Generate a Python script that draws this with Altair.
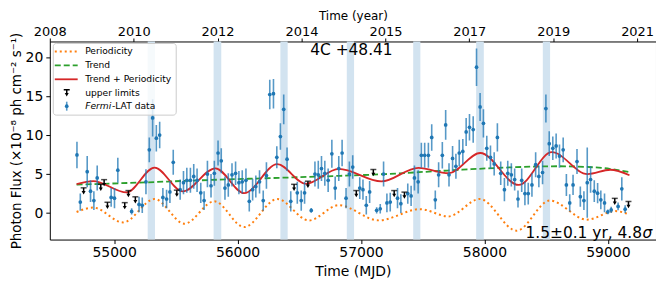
import altair as alt
import pandas as pd

# ---------------- data ----------------
mjd = [54699, 54726, 54782, 54809, 54836, 54863, 54976, 55003, 55030, 55142,
       55202, 55228, 55258, 55285, 55312, 55342, 55369, 55395, 55425, 55452,
       55479, 55535, 55562, 55589, 55618, 55645, 55672, 55702, 55729, 55756,
       55785, 55812, 55842, 55868, 55898, 55925, 55955, 55984, 56011, 56038,
       56068, 56095, 56122, 56148, 56178, 56208, 56234, 56261, 56291, 56318,
       56347, 56374, 56401, 56431, 56484, 56516, 56543, 56597, 56627, 56654,
       56680, 56707, 56734, 56764, 56791, 56820, 56847, 56879, 56906, 56933,
       56990, 57016, 57043, 57070, 57127, 57156, 57183, 57210, 57237, 57296,
       57323, 57379, 57406, 57433, 57463, 57489, 57516, 57546, 57573, 57602,
       57629, 57659, 57686, 57713, 57742, 57769, 57796, 57825, 57852, 57879,
       57909, 57936, 57965, 57992, 58019, 58049, 58079, 58105, 58132, 58162,
       58189, 58218, 58245, 58272, 58302, 58328, 58355, 58385, 58415, 58441,
       58471, 58498, 58525, 58554, 58581, 58608, 58638, 58664, 58691, 58718,
       58750, 58777, 58806, 58833, 58860, 58890, 58917, 58943, 58973, 59000,
       59027, 59083, 59113, 59140]
flux = [7.45, 1.4, 5.3, 2.8, 1.6, 4.5, 2.0, 1.9, 5.5, 0.2,
        1.1, 1.0, 4.0, 8.1, 12.2, 9.6, 10.0, 2.0, 1.8, 2.7,
        6.5, 3.0, 3.9, 4.2, 4.2, 4.7, 4.2, 2.6, 1.6, 5.0,
        3.5, 5.1, 7.7, 6.7, 3.2, 3.6, 4.9, 5.1, 3.9, 4.0,
        4.2, 1.5, 3.0, 3.4, 4.0, 1.6, 4.8, 15.2, 15.3, 7.15,
        9.8, 13.3, 6.9, 1.5, 2.6, 1.6, 2.6, 0.34, 5.0, 4.9,
        5.7, 5.1, 4.2, 7.6, 3.2, 5.7, 7.7, 1.9, 5.0, 5.9,
        3.2, 3.0, 1.0, 2.7, 0.35, 0.55, 5.0, 1.3, 1.4, 1.9,
        1.2, 2.5, 2.2, 4.5, 4.0, 7.4, 7.4, 7.4, 9.7, 1.7,
        4.9, 7.4, 11.3, 4.9, 7.0, 6.0, 7.7, 7.9, 10.4, 11.0,
        10.7, 18.7, 13.6, 11.5, 8.3, 7.15, 6.3, 9.7, 5.1, 3.0,
        5.1, 4.9, 4.3, 1.8, 4.2, 2.5, 2.5, 3.6, 6.2, 4.7,
        5.2, 13.4, 8.9, 8.3, 8.6, 7.3, 8.1, 3.6, 1.3, 3.6,
        6.6, 2.1, 1.6, 3.9, 4.3, 2.8, 2.55, 1.7, 1.3, 0.15,
        0.4, 0.85, 3.1, 0.5]
flux_err = [1.7, 1.1, 2.0, 1.4, 1.2, 1.6, 1.2, 1.3, 1.6, 0.4,
            1.0, 1.0, 1.6, 1.6, 2.4, 1.7, 1.7, 1.2, 1.2, 1.4,
            1.6, 1.3, 1.5, 1.6, 1.6, 1.6, 1.5, 1.3, 1.2, 1.7,
            1.5, 1.6, 1.6, 1.6, 1.5, 1.5, 1.5, 1.5, 1.5, 1.5,
            1.5, 1.3, 1.4, 1.4, 1.5, 1.3, 1.7, 1.9, 1.9, 1.4,
            1.7, 1.9, 1.5, 1.3, 1.4, 1.3, 1.4, 0.3, 1.6, 1.8,
            1.6, 1.6, 1.5, 1.8, 1.5, 1.6, 1.7, 1.3, 1.6, 1.5,
            1.4, 1.3, 1.2, 1.4, 0.4, 0.6, 1.6, 1.2, 1.2, 1.3,
            1.2, 1.3, 1.3, 1.6, 1.5, 1.6, 1.6, 1.6, 1.7, 1.2,
            1.6, 1.7, 1.9, 1.5, 1.6, 1.6, 1.7, 1.6, 1.8, 1.7,
            1.7, 2.4, 1.8, 1.8, 1.6, 1.5, 1.5, 1.8, 1.5, 1.5,
            1.6, 1.5, 1.4, 1.1, 1.5, 1.5, 1.4, 1.5, 1.6, 1.4,
            1.5, 1.8, 1.6, 1.5, 1.6, 1.5, 1.6, 1.4, 1.1, 1.3,
            1.6, 1.3, 1.2, 4.5, 1.7, 1.4, 1.3, 1.2, 1.2, 0.3,
            0.4, 0.5, 1.5, 0.5]

ul_mjd = [54753, 54892, 54919, 54946, 55086, 55116, 55172, 55508,
          56458, 56570, 56962, 57100, 57269, 57352, 59056, 59167]
ul_flux = [2.85, 3.3, 3.9, 1.0, 0.95, 2.5, 1.7, 2.55,
           3.3, 3.7, 2.5, 5.2, 2.5, 2.3, 1.5, 1.1]

band_start = [55272, 55806, 56347, 56885, 57423, 57933, 58473]
band_end = [55331, 55868, 56406, 56944, 57481, 57995, 58532]

per_mjd = [54696, 54831, 55073, 55328, 55570, 55812, 56054, 56322, 56578,
           56820, 57143, 57479, 57707, 57963, 58261, 58530, 58830, 59060, 59175]
per_val = [0.13, 0.7, -1.2, 1.8, -1.36, 1.5, -1.8, 1.8, -0.95,
           1.0, -0.94, 0.5, -0.43, 1.8, -2.26, 1.6, -0.85, 0.25, -0.2]

trend_mjd = [54696, 55200, 55700, 56200, 56700, 57200, 57700, 58200, 58600, 58900, 59175]
trend_val = [3.65, 3.9, 4.2, 4.45, 4.7, 5.0, 5.45, 5.85, 6.0, 5.85, 5.25]

tp_mjd = [54696, 54831, 55100, 55328, 55556, 55820, 56054, 56322, 56555,
          56820, 57165, 57465, 57710, 57966, 58278, 58546, 58835, 59020, 59175]
tp_val = [3.7, 4.1, 2.64, 5.83, 2.77, 5.74, 2.55, 6.26, 3.75,
          5.66, 4.05, 5.8, 5.1, 7.7, 3.6, 7.8, 5.0, 5.55, 4.85]

bottom_ticks = [55000, 56000, 57000, 58000, 59000]
left_ticks = [0, 5, 10, 15, 20]
top_tick_mjd = [54479, 55159, 55838, 56518, 57198, 57877, 58557, 59237]
top_tick_labels = ["2008", "2010", "2012", "2014", "2015", "2017", "2019", "2021"]

# ---------------- chart ----------------
W, H = 609, 199
FONT = "DejaVu Sans"
BLUE, ORANGE, GREEN, RED = "#1f77b4", "#ff7f0e", "#2ca02c", "#d62728"

xs = alt.Scale(domain=[54479, 59390], nice=False, zero=False)
ys = alt.Scale(domain=[-3.4, 22.0], nice=False, zero=False)

y_axis = alt.Axis(values=left_ticks, format="d",
                  title="Photon Flux  (×10⁻⁸ ph cm⁻² s⁻¹)",
                  titleFontSize=13.5, titlePadding=1.5, labelPadding=3)

df = pd.DataFrame({"mjd": mjd, "flux": flux, "err": flux_err})
ul = pd.DataFrame({"mjd": ul_mjd, "flux": ul_flux})
bands = pd.DataFrame({"start": band_start, "end": band_end})
per = pd.DataFrame({"mjd": per_mjd, "v": per_val})
trend = pd.DataFrame({"mjd": trend_mjd, "v": trend_val})
tp = pd.DataFrame({"mjd": tp_mjd, "v": tp_val})

top_label_expr = ("[" + ",".join("'%s'" % s for s in top_tick_labels) + "][indexof(["
                  + ",".join(str(v) for v in top_tick_mjd) + "], datum.value)]")

band_layer = alt.Chart(bands).mark_rect(color="#d2e3f0").encode(
    x=alt.X("start:Q", scale=xs,
            axis=alt.Axis(orient="top", values=top_tick_mjd, labelExpr=top_label_expr,
                          title="Time (year)", labelPadding=0, labelFlush=False,
                          labelFontSize=13, tickSize=3.5,
                          titleFontSize=12, titleY=-21.8, titleBaseline="alphabetic")),
    x2="end:Q",
)

per_layer = alt.Chart(per).mark_line(color=ORANGE, strokeWidth=2, strokeDash=[2, 3],
                                     interpolate="monotone", clip=True).encode(
    x=alt.X("mjd:Q", scale=xs, axis=None),
    y=alt.Y("v:Q", scale=ys, axis=y_axis),
)
trend_layer = alt.Chart(trend).mark_line(color=GREEN, strokeWidth=1.8, strokeDash=[6, 3],
                                         interpolate="monotone", clip=True).encode(
    x=alt.X("mjd:Q", scale=xs, axis=None),
    y=alt.Y("v:Q", scale=ys, axis=y_axis),
)
tp_layer = alt.Chart(tp).mark_line(color=RED, strokeWidth=1.8,
                                   interpolate="monotone", clip=True).encode(
    x=alt.X("mjd:Q", scale=xs, axis=None),
    y=alt.Y("v:Q", scale=ys, axis=y_axis),
)

err_layer = alt.Chart(df).transform_calculate(
    lo="datum.flux - datum.err", hi="datum.flux + datum.err"
).mark_rule(color=BLUE, strokeWidth=1.6, opacity=0.75, clip=True).encode(
    x=alt.X("mjd:Q", scale=xs, axis=None),
    y=alt.Y("lo:Q", scale=ys, axis=y_axis),
    y2="hi:Q",
)
pt_layer = alt.Chart(df).mark_circle(color=BLUE, size=14, opacity=1, clip=True).encode(
    x=alt.X("mjd:Q", scale=xs,
            axis=alt.Axis(values=bottom_ticks, format="d", title="Time (MJD)",
                          titlePadding=5, labelPadding=2, labelFlush=False)),
    y=alt.Y("flux:Q", scale=ys, axis=y_axis),
)

ul_stem = alt.Chart(ul).mark_rule(color="black", strokeWidth=1.5, yOffset=-3, y2Offset=1).encode(
    x=alt.X("mjd:Q", scale=xs, axis=None),
    y=alt.Y("flux:Q", scale=ys, axis=y_axis),
    y2="flux:Q",
)
ul_cap = alt.Chart(ul).mark_tick(color="black", orient="horizontal", thickness=1.5,
                                 size=6, yOffset=-3).encode(
    x=alt.X("mjd:Q", scale=xs, axis=None),
    y=alt.Y("flux:Q", scale=ys, axis=y_axis),
)
ul_head = alt.Chart(ul).mark_point(color="black", shape="triangle-down", filled=True,
                                   size=16, opacity=1, yOffset=2).encode(
    x=alt.X("mjd:Q", scale=xs, axis=None),
    y=alt.Y("flux:Q", scale=ys, axis=y_axis),
)

# ---------------- annotations and manual legend ----------------
one = alt.Data(values=[{"k": 0}])

src_text = alt.Chart(one).mark_text(text="4C +48.41", font=FONT, fontSize=15.5,
                                    align="center", baseline="alphabetic",
                                    color="black").encode(
    x=alt.value(303), y=alt.value(14))
per_text1 = alt.Chart(one).mark_text(text="1.5±0.1 yr, 4.8", font=FONT, fontSize=15.5,
                                     align="right", baseline="alphabetic",
                                     color="black").encode(
    x=alt.value(595), y=alt.value(197))
per_text2 = alt.Chart(one).mark_text(text="σ", font=FONT, fontSize=15.5, fontStyle="italic",
                                     align="left", baseline="alphabetic",
                                     color="black").encode(
    x=alt.value(595.5), y=alt.value(197))

leg_box = alt.Chart(one).mark_rect(fill="white", fillOpacity=0.8, stroke="#cccccc",
                                   strokeWidth=1, cornerRadius=3).encode(
    x=alt.value(3.5), x2=alt.value(127), y=alt.value(2), y2=alt.value(74))
leg_per = alt.Chart(one).mark_rule(color=ORANGE, strokeWidth=2, strokeDash=[2, 3]).encode(
    x=alt.value(5), x2=alt.value(28), y=alt.value(10))
leg_trend = alt.Chart(one).mark_rule(color=GREEN, strokeWidth=1.8, strokeDash=[6, 3]).encode(
    x=alt.value(5), x2=alt.value(28), y=alt.value(24))
leg_tp = alt.Chart(one).mark_rule(color=RED, strokeWidth=1.8).encode(
    x=alt.value(5), x2=alt.value(28), y=alt.value(38))
leg_ul_stem = alt.Chart(one).mark_rule(color="black", strokeWidth=1.5).encode(
    x=alt.value(17), y=alt.value(48.5), y2=alt.value(53))
leg_ul_cap = alt.Chart(one).mark_rule(color="black", strokeWidth=1.5).encode(
    x=alt.value(14), x2=alt.value(20), y=alt.value(48.5))
leg_ul_head = alt.Chart(one).mark_point(color="black", shape="triangle-down", filled=True,
                                        size=16, opacity=1).encode(
    x=alt.value(17), y=alt.value(53.5))
leg_err = alt.Chart(one).mark_rule(color=BLUE, strokeWidth=1.6, opacity=0.75).encode(
    x=alt.value(17), y=alt.value(60.5), y2=alt.value(69.5))
leg_pt = alt.Chart(one).mark_circle(color=BLUE, size=14, opacity=1).encode(
    x=alt.value(17), y=alt.value(65))

def leg_text(txt, x, y, italic=False):
    kw = dict(text=txt, font=FONT, fontSize=9.2, align="left", baseline="middle",
              color="black")
    if italic:
        kw["fontStyle"] = "italic"
    return alt.Chart(one).mark_text(**kw).encode(x=alt.value(x), y=alt.value(y))

legend_layers = [
    leg_box, leg_per, leg_trend, leg_tp, leg_ul_stem, leg_ul_cap, leg_ul_head,
    leg_err, leg_pt,
    leg_text("Periodicity", 35.5, 10),
    leg_text("Trend", 35.5, 24),
    leg_text("Trend + Periodicity", 35.5, 38),
    leg_text("upper limits", 35.5, 51.5),
    leg_text("Fermi", 35.5, 65, italic=True),
    leg_text("-LAT data", 62.5, 65),
]

chart = alt.layer(
    band_layer, per_layer, trend_layer, tp_layer, err_layer, pt_layer,
    ul_stem, ul_cap, ul_head, src_text, per_text1, per_text2, *legend_layers
).resolve_axis(x="independent").properties(
    width=W, height=H,
    autosize=alt.AutoSizeParams(type="none"),
    padding={"left": 42, "top": 33, "right": 0, "bottom": 40},
).configure_axis(
    grid=False, domain=False, tickColor="black", tickSize=4, tickWidth=1,
    labelColor="black", titleColor="black", labelFont=FONT, titleFont=FONT,
    labelFontSize=14, titleFontSize=14, titleFontWeight="normal",
).configure_view(stroke="black", strokeWidth=1)

chart.save("out.html", embed_options={"renderer": "svg", "actions": False})
